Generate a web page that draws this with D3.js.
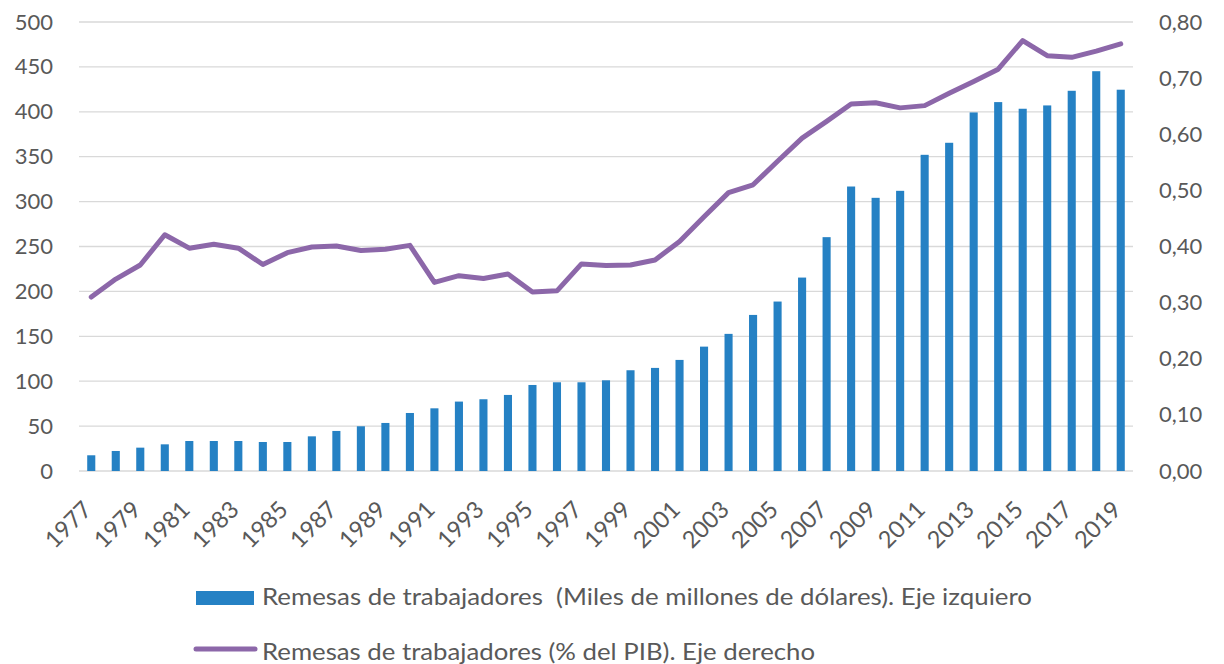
<!DOCTYPE html>
<html>
<head>
<meta charset="utf-8">
<script src="https://cdn.jsdelivr.net/npm/d3@7"></script>
<style>
  body { margin: 0; background: #fff; }
  text { font-family: Lato, "Liberation Sans", sans-serif; fill: #595959; }
</style>
</head>
<body>
<div id="chart-area"></div>
<script>

// Data
let years = d3.range(1977, 2020);

let remesas = [17.5, 22.3, 26, 29.7, 33.4, 33.4, 33.4, 32.3, 32.3, 38.6,
    44.6, 49.8, 53.5, 64.6, 69.8, 77.3, 79.9, 84.7, 95.8, 98.8,
    98.8, 101, 112.2, 114.8, 123.7, 138.5, 152.7, 173.8, 188.7, 215.4,
    260.4, 316.8, 304.2, 312, 352.1, 365.5, 399.3, 410.8, 403.4, 407.1,
    423.4, 445.2, 424.6];

let pctPIB = [0.310, 0.342, 0.367, 0.421, 0.397, 0.404, 0.397, 0.368, 0.389, 0.399,
    0.401, 0.393, 0.395, 0.402, 0.336, 0.348, 0.343, 0.351, 0.319, 0.321,
    0.369, 0.366, 0.367, 0.376, 0.409, 0.453, 0.496, 0.510, 0.552, 0.593,
    0.623, 0.654, 0.656, 0.647, 0.651, 0.673, 0.694, 0.716, 0.767, 0.740,
    0.737, 0.748, 0.761];

let leftTicks = [0, 50, 100, 150, 200, 250, 300, 350, 400, 450, 500];
let rightTicks = [0, 0.1, 0.2, 0.3, 0.4, 0.5, 0.6, 0.7, 0.8];

let legendLabels = ["Remesas de trabajadores  (Miles de millones de dólares). Eje izquiero",
    "Remesas de trabajadores (% del PIB). Eje derecho"];

let data = years.map((y, i) => ({year: y, value: remesas[i], pct: pctPIB[i]}));

// SVG drawing area
let margin = {top: 22, right: 91, bottom: 193, left: 79};
let width = 1224 - margin.left - margin.right,
    height = 664 - margin.top - margin.bottom;

let svgRoot = d3.select("#chart-area").append("svg")
    .attr("width", 1224)
    .attr("height", 664);

let svg = svgRoot.append("g")
    .attr("transform", "translate(" + margin.left + "," + margin.top + ")");

// Scales
let x = d3.scaleBand()
    .domain(years)
    .range([0, width])
    .paddingInner(0.67)
    .paddingOuter(0.335);

let y = d3.scaleLinear().domain([0, 500]).range([height, 0]);
let y2 = d3.scaleLinear().domain([0, 0.8]).range([height, 0]);

// Gridlines
svg.append("g")
    .selectAll("line")
    .data(leftTicks)
    .enter().append("line")
    .attr("x1", 0)
    .attr("x2", width)
    .attr("y1", d => y(d))
    .attr("y2", d => y(d))
    .attr("stroke", "#d9d9d9")
    .attr("stroke-width", 1.3);

// Axes
let yAxis = d3.axisLeft(y).tickValues(leftTicks).tickSize(0).tickPadding(26);
let y2Axis = d3.axisRight(y2).tickValues(rightTicks).tickSize(0).tickPadding(26)
    .tickFormat(d => d3.format(".2f")(d).replace(".", ","));
let xAxis = d3.axisBottom(x).tickSize(0)
    .tickFormat(d => (d % 2 === 1 ? d : ""));

let gy = svg.append("g").call(yAxis);
let gy2 = svg.append("g").attr("transform", "translate(" + width + ",0)").call(y2Axis);
let gx = svg.append("g").attr("transform", "translate(0," + height + ")").call(xAxis);

[gy, gy2, gx].forEach(g => {
    g.select(".domain").remove();
    g.selectAll("text").style("font-size", "22px").attr("fill", "#595959");
});

gx.selectAll("text")
    .style("font-size", "23.5px")
    .attr("text-anchor", "end")
    .attr("dy", null)
    .attr("y", 0)
    .attr("transform", "translate(2,40) rotate(-45)");

// Bars
svg.selectAll("rect.bar")
    .data(data)
    .enter().append("rect")
    .attr("class", "bar")
    .attr("x", d => x(d.year))
    .attr("y", d => y(d.value))
    .attr("width", x.bandwidth())
    .attr("height", d => height - y(d.value))
    .attr("fill", "#2581c4");

// Line
let line = d3.line()
    .x(d => x(d.year) + x.bandwidth() / 2)
    .y(d => y2(d.pct));

svg.append("path")
    .datum(data)
    .attr("d", line)
    .attr("fill", "none")
    .attr("stroke", "#8c67a9")
    .attr("stroke-width", 5)
    .attr("stroke-linejoin", "round")
    .attr("stroke-linecap", "round");

// Legend
let legend = svgRoot.append("g");

legend.append("rect")
    .attr("x", 196)
    .attr("y", 591)
    .attr("width", 58)
    .attr("height", 14)
    .attr("fill", "#2581c4");

legend.append("line")
    .attr("x1", 196)
    .attr("x2", 255)
    .attr("y1", 649)
    .attr("y2", 649)
    .attr("stroke", "#8c67a9")
    .attr("stroke-width", 5)
    .attr("stroke-linecap", "round");

legend.selectAll("text")
    .data(legendLabels)
    .enter().append("text")
    .attr("x", 262)
    .attr("y", (d, i) => i === 0 ? 605 : 660)
    .attr("textLength", (d, i) => i === 0 ? 770 : 553)
    .attr("lengthAdjust", "spacingAndGlyphs")
    .style("font-size", "23px")
    .style("white-space", "pre")
    .text(d => d);

</script>
</body>
</html>
